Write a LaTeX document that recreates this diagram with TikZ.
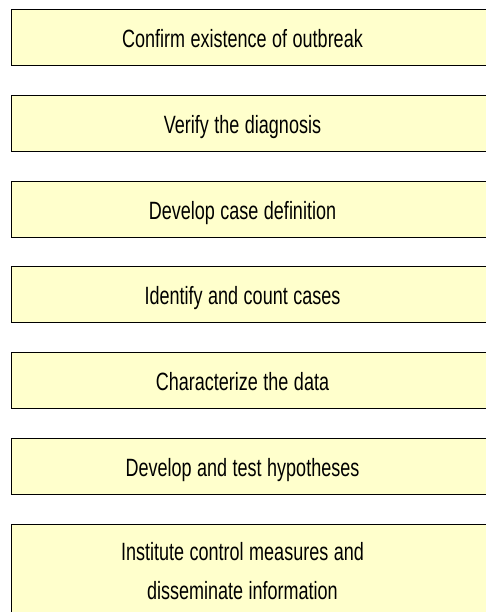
\documentclass[tikz,border=0pt]{standalone}
\usepackage{fontspec}
\setmainfont[FakeStretch=0.72]{Liberation Sans}
\usetikzlibrary{positioning}
\definecolor{boxyellow}{RGB}{255,255,204}

\begin{document}
\begin{tikzpicture}[x=1pt,y=-1pt,node distance={28.8pt},
  stepbox/.style = {draw, fill=boxyellow, line width=1pt, minimum width=484pt, minimum height=56pt,
    inner xsep=0pt, text width=484pt, align=center,
    execute at begin node={\advance\rightskip by 22pt\spaceskip=5.5pt},
    font=\fontsize{25}{39}\selectfont, text height=20pt, text depth=0pt}]
\useasboundingbox (0,0) rectangle (485,612);
\node[stepbox, anchor=north west] (confirm) at (11,9) {Confirm existence of outbreak};
\node[stepbox] (verify) [below=of confirm] {Verify the diagnosis};
\node[stepbox] (define) [below=of verify] {Develop case definition};
\node[stepbox] (count) [below=of define] {Identify and count cases};
\node[stepbox] (characterize) [below=of count] {Characterize the data};
\node[stepbox] (hypotheses) [below=of characterize] {Develop and test hypotheses};
\node[stepbox, minimum height=92pt, text depth=39pt] (control) [below=of hypotheses]
  {Institute control measures and\\ disseminate information};
\end{tikzpicture}
\end{document}
